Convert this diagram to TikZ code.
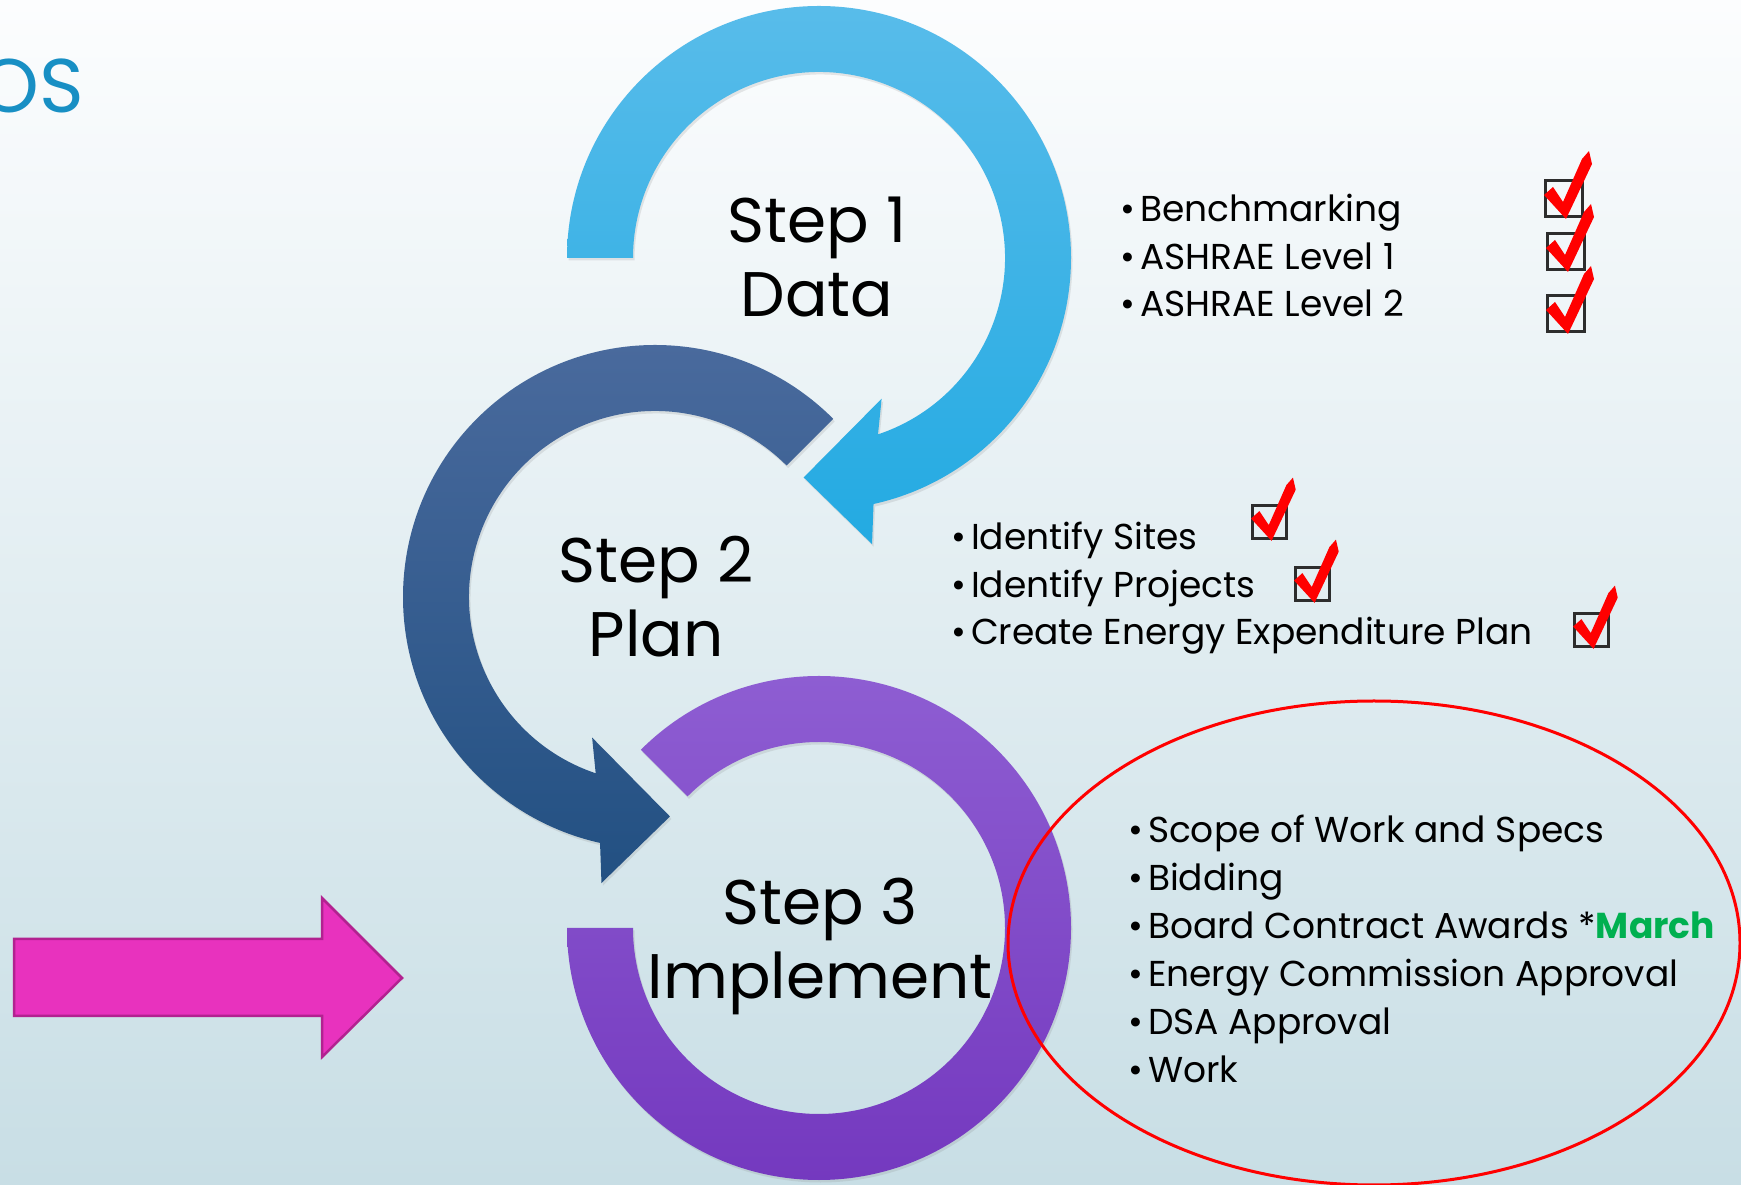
\documentclass[tikz,border=0pt]{standalone}
\usepackage{fontspec}
\setmainfont{Poppins}
\usetikzlibrary{positioning,calc,shadows}

\definecolor{bgtop}{RGB}{252,253,254}
\definecolor{bgbottom}{RGB}{200,222,229}
\definecolor{dataTop}{RGB}{88,188,234}
\definecolor{dataBottom}{RGB}{35,170,226}
\definecolor{planTop}{RGB}{75,107,158}
\definecolor{planBottom}{RGB}{34,80,130}
\definecolor{implTop}{RGB}{143,95,211}
\definecolor{implBottom}{RGB}{115,55,190}
\definecolor{titleblue}{RGB}{24,143,196}
\definecolor{pinkfill}{RGB}{232,50,190}
\definecolor{pinkline}{RGB}{178,34,144}
\definecolor{marchgreen}{RGB}{0,176,80}
\definecolor{tickred}{RGB}{255,0,0}
\definecolor{boxgrey}{RGB}{45,45,45}

\newcommand{\stepfont}{\fontsize{63}{74}\selectfont}
\newcommand{\itemfont}{\fontsize{36}{47}\selectfont}
\newcommand{\itm}{\textbullet\hspace{5pt}}

\tikzset{
  ring/.style={drop shadow={shadow xshift=1.5pt,shadow yshift=-2.5pt,opacity=0.18}},
  steplabel/.style={font=\stepfont, inner sep=0pt, text height=46pt, text depth=14pt},
  item/.style={font=\itemfont, inner sep=0pt, anchor=base west},
  nextitem/.style={below=#1, anchor=base west},
  boxline/.style={draw=boxgrey, line width=3pt},
  tickbox/.pic={
    \draw[boxline] (0,0) rectangle (37,36);
    \fill[tickred] (-1,22) -- (8,30) -- (18,15) -- (37,58) -- (44,66) -- (47,53) -- (21,-2) -- cycle;
  }
}

\begin{document}
\begin{tikzpicture}[x=1pt,y=1pt,on grid]
\useasboundingbox (0,0) rectangle (1741,1184);
\clip (0,0) rectangle (1741,1184);
\shade[top color=bgtop, bottom color=bgbottom] (0,0) rectangle (1741,1184);

\node[font=\fontsize{76}{80}\selectfont, text=titleblue, anchor=base east, inner sep=0pt] (title) at (84,1071) {OS};

% the three rings
\coordinate (c1) at (819,926);
\coordinate (c2) at (655,587);
\coordinate (c3) at (819,256);

\shade[ring, top color=dataTop, bottom color=dataBottom]
  ($(c1)+(180:252)$) arc[start angle=180, end angle=-77.5, radius=252pt]
  -- ($(c1)+(-79.5:291)$) -- ($(c1)+(-94:220)$) -- ($(c1)+(-66:154)$)
  -- ($(c1)+(-71.5:186)$) arc[start angle=-71.5, end angle=180, radius=186pt] -- cycle;

\shade[ring, top color=planTop, bottom color=planBottom]
  ($(c2)+(45:252)$) arc[start angle=45, end angle=257.4, radius=252pt]
  -- ($(c2)+(259.4:291)$) -- ($(c2)+(273.9:220)$) -- ($(c2)+(245.9:154)$)
  -- ($(c2)+(251.4:186)$) arc[start angle=251.4, end angle=45, radius=186pt] -- cycle;

\shade[ring, top color=implTop, bottom color=implBottom]
  ($(c3)+(135:252)$) arc[start angle=135, end angle=-180, radius=252pt]
  -- ($(c3)+(180:186)$) arc[start angle=-180, end angle=135, radius=186pt] -- cycle;

% step labels
\node[steplabel] (step1) at (817,957) {Step 1};
\node[steplabel, below=74pt of step1] (data) {Data};
\node[steplabel] (step2) at (656,617) {Step 2};
\node[steplabel, below=74pt of step2] (plan) {Plan};
\node[steplabel] (step3) at (820,275) {Step 3};
\node[steplabel, below=74pt of step3] (implement) {Implement};

% step 1 items
\node[item] (bench) at (1120,962) {\itm Benchmarking};
\node[item, nextitem=47.5pt of bench.base west] (lvl1) {\itm ASHRAE Level 1};
\node[item, nextitem=47.5pt of lvl1.base west] (lvl2) {\itm ASHRAE Level 2};
\pic at (1545,967) {tickbox};
\pic at (1547,914) {tickbox};
\pic at (1547,852) {tickbox};

% step 2 items
\node[item] (sites) at (951,634) {\itm Identify Sites};
\node[item, nextitem=47.5pt of sites.base west] (projects) {\itm Identify Projects};
\node[item, nextitem=47.5pt of projects.base west] (eeplan) {\itm Create Energy Expenditure Plan};
\pic[scale=0.93] at (1252,645) {tickbox};
\pic[scale=0.93] at (1295,583) {tickbox};
\pic[scale=0.93] at (1574,537) {tickbox};

% step 3 items
\node[item] (scope) at (1128,341) {\itm Scope of Work and Specs};
\node[item, nextitem=48pt of scope.base west] (bidding) {\itm Bidding};
\node[item, nextitem=48pt of bidding.base west] (awards) {\itm Board Contract Awards *\textcolor{marchgreen}{\textbf{March}}};
\node[item, nextitem=48pt of awards.base west] (energy) {\itm Energy Commission Approval};
\node[item, nextitem=48pt of energy.base west] (dsa) {\itm DSA Approval};
\node[item, nextitem=48pt of dsa.base west] (work) {\itm Work};

\draw[tickred, line width=3pt] (1374,241) ellipse [x radius=366pt, y radius=242pt];

% pink pointer
\draw[fill=pinkfill, draw=pinkline, line width=2.5pt, line join=miter]
  (14,245) -- (322,245) -- (322,286) -- (402,206) -- (322,127) -- (322,168) -- (14,168) -- cycle;
\end{tikzpicture}
\end{document}
